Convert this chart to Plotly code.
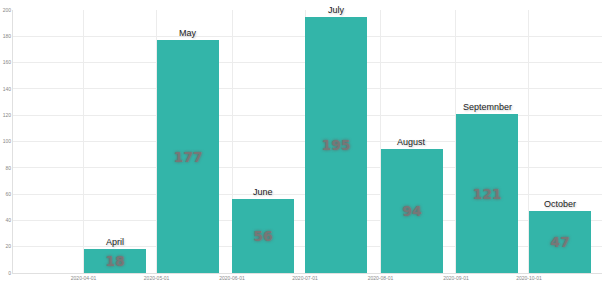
import plotly.graph_objects as go
import pandas as pd

months = ["April", "May", "June", "July", "August", "Septemnber", "October"]
dates = ["2020-04-01", "2020-05-01", "2020-06-01", "2020-07-01", "2020-08-01", "2020-09-01", "2020-10-01"]
values = [18, 177, 56, 195, 94, 121, 47]
y_ticks = list(range(0, 201, 20))

bar_days = 25.5
day_ms = 86400000
x_dt = pd.to_datetime(dates)
x_mid = x_dt + pd.Timedelta(days=bar_days / 2)

fig = go.Figure()
fig.add_trace(go.Bar(
    x=x_dt, y=values, offset=0, width=bar_days * day_ms,
    marker=dict(color="#33b5a9", line=dict(width=0)),
    text=[str(v) for v in values], textposition="inside", insidetextanchor="middle",
    textangle=0,
    textfont=dict(family="DejaVu Sans", size=14, color="#777777", weight="bold",
                  shadow="0px 0px 3px #666"),
    hoverinfo="skip",
))
for xm, v, m in zip(x_mid, values, months):
    fig.add_annotation(
        x=xm, y=v, text=m, showarrow=False, yanchor="bottom", yshift=0,
        font=dict(family="Liberation Sans", size=9, color="#222",
                  shadow="1px 1px 2px #ccc"),
    )
fig.update_layout(
    width=602, height=285, showlegend=False, bargap=0,
    margin=dict(l=13, r=0, t=10, b=12),
    plot_bgcolor="white", paper_bgcolor="white",
)
fig.update_xaxes(type="date", range=["2020-03-03", "2020-10-31"],
                 tickvals=x_dt, tickformat="%Y-%m-%d",
                 tickfont=dict(size=5, color="#888", family="Liberation Sans"),
                 showgrid=True, gridcolor="#ececec", gridwidth=1,
                 showline=True, linecolor="#e0e0e0", ticks="", ticklen=0)
fig.update_yaxes(range=[0, 200], tickvals=y_ticks,
                 tickfont=dict(size=5, color="#888", family="Liberation Sans"),
                 showgrid=True, gridcolor="#ececec", zeroline=False,
                 showline=True, linecolor="#e0e0e0", ticks="")
fig.write_html("out.html")
